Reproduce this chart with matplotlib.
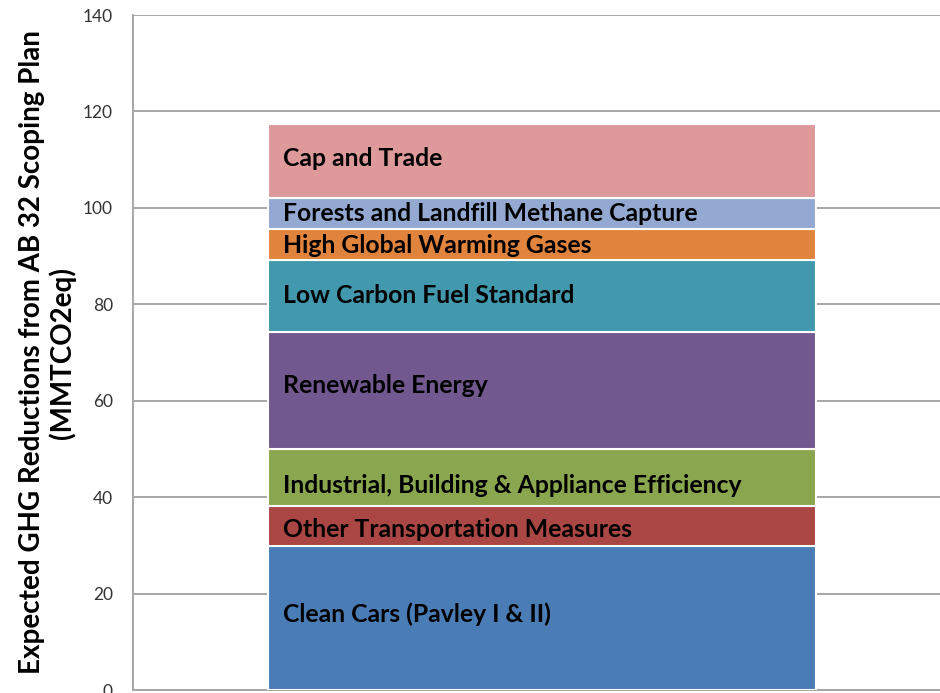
import numpy as np
import matplotlib
matplotlib.use('Agg')
import matplotlib.pyplot as plt

# Stacked segments, bottom to top (MMTCO2eq)
measures = ['Clean Cars (Pavley I & II)', 'Other Transportation Measures',
            'Industrial, Building & Appliance Efficiency', 'Renewable Energy',
            'Low Carbon Fuel Standard', 'High Global Warming Gases',
            'Forests and Landfill Methane Capture', 'Cap and Trade']
reductions = [29.8, 8.4, 11.7, 24.3, 15.0, 6.5, 6.4, 15.3]
colors = ['#4A7DB5', '#AA4643', '#8AA64E', '#71588E',
          '#4299AE', '#DF833D', '#94A9D2', '#DE9A9B']
yticks = [0, 20, 40, 60, 80, 100, 120, 140]

plt.rcParams['font.family'] = ['Lato', 'DejaVu Sans']

fig = plt.figure(figsize=(9.4, 6.93), dpi=100)
ax = fig.add_axes([0.1415, 0.0043, 0.8585, 0.9740])

bar_x = 0.507
bar_w = 0.679
bottoms = np.concatenate([[0], np.cumsum(reductions)[:-1]])
ax.bar([bar_x] * len(reductions), reductions, width=bar_w, bottom=bottoms,
       color=colors, edgecolor='white', linewidth=1.5, zorder=3)

# segment labels, left aligned inside the bar
label_dy = [0.8, -0.8, -1.6, 1.2, 0.2, -0.2, 0.0, 0.5]
for name, b, h, dy in zip(measures, bottoms, reductions, label_dy):
    ax.text(bar_x - bar_w / 2 + 0.018, b + h / 2 + dy, name,
            ha='left', va='center', fontsize=17.8, fontweight='bold',
            color='black', zorder=4)

ax.set_xlim(0, 1)
ax.set_ylim(0, 140)
ax.set_yticks(yticks)
ax.set_xticks([])
ax.tick_params(axis='y', length=0, pad=14.5, labelsize=12.5, labelcolor='#333333')
ax.yaxis.grid(True, color='#A6A6A6', linewidth=1.4, zorder=0)
ax.set_axisbelow(True)
for s in ['top', 'right']:
    ax.spines[s].set_visible(False)
for s in ['left', 'bottom']:
    ax.spines[s].set_color('#A6A6A6')
    ax.spines[s].set_linewidth(1.4)

ax.set_ylabel('Expected GHG Reductions from AB 32 Scoping Plan\n(MMTCO2eq)',
              fontsize=20, fontweight='bold', labelpad=5, linespacing=1.15)

plt.savefig('out.png', dpi=100)
